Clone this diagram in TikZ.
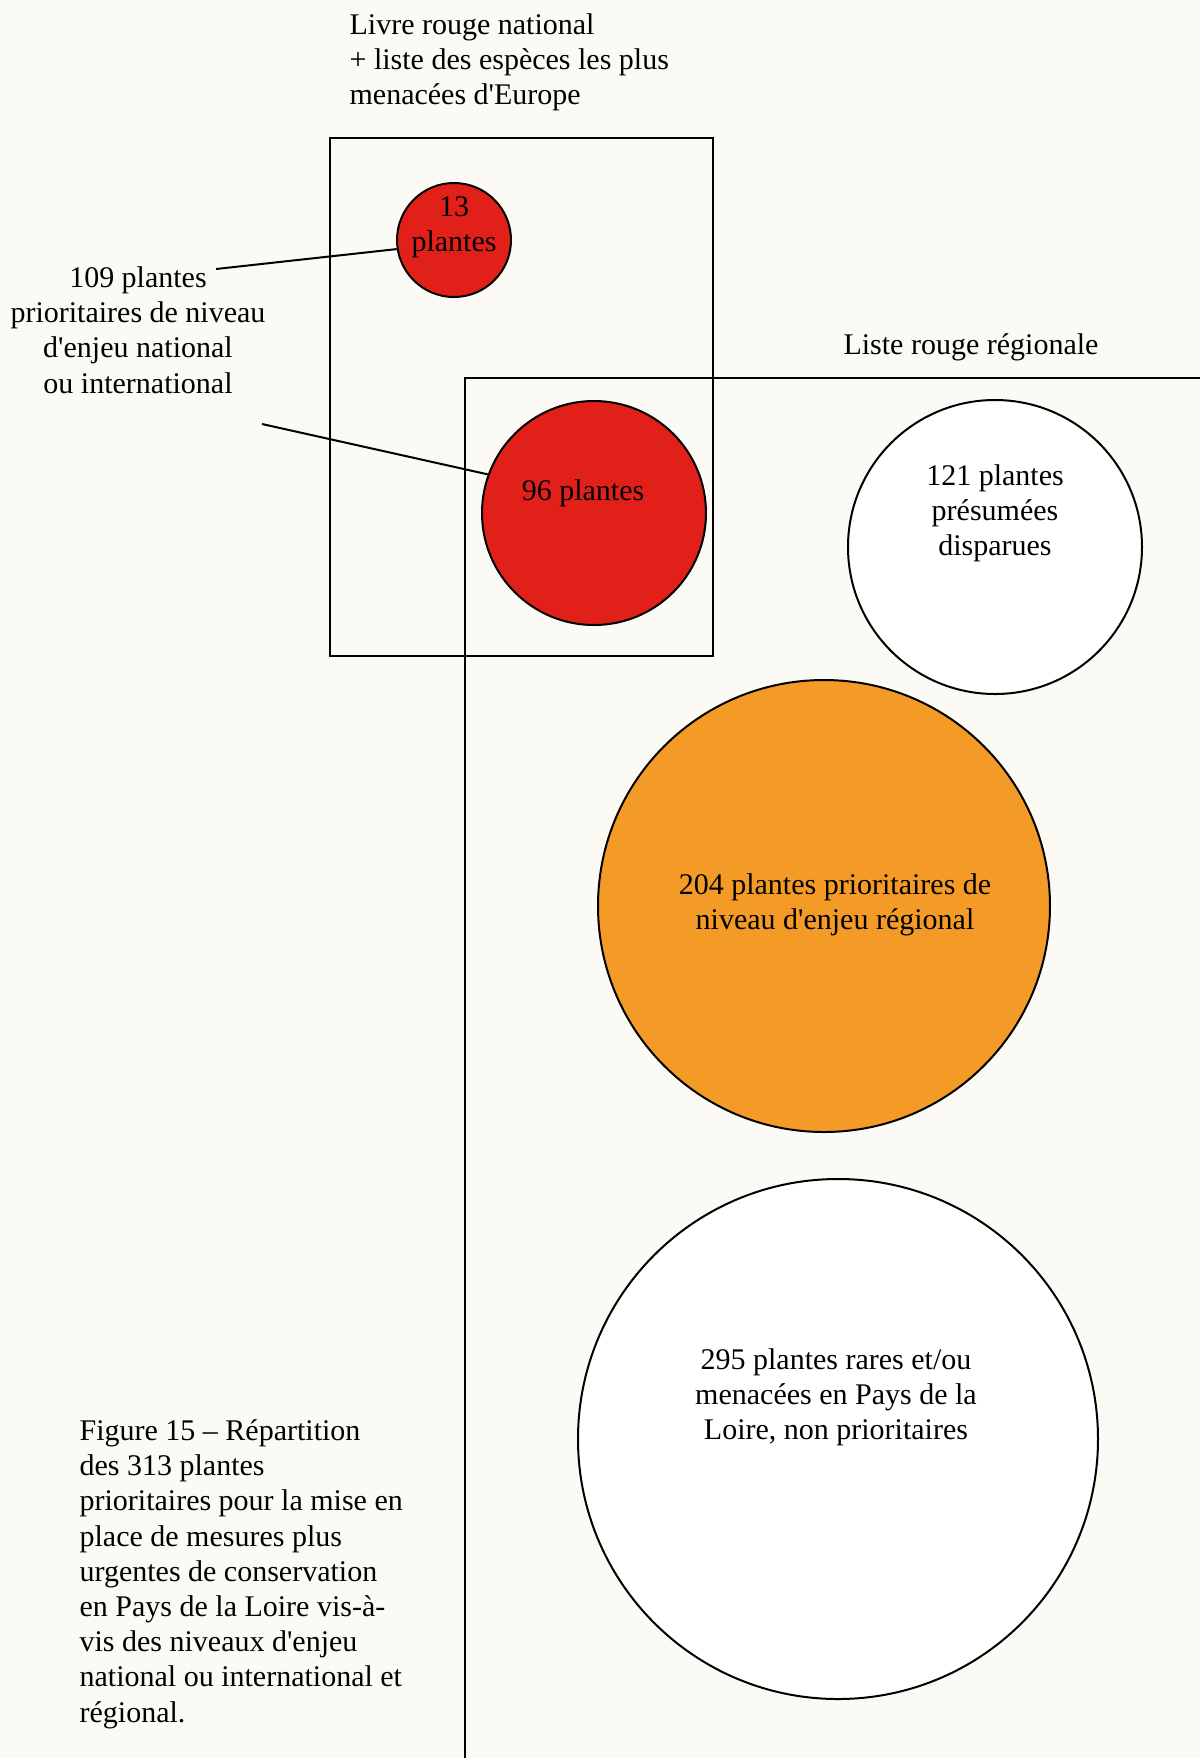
\documentclass[tikz,border=0pt]{standalone}
\usepackage{fontspec}
\setmainfont{Liberation Serif}[Ligatures=TeXOff]
\usepackage{tikz}
\usetikzlibrary{positioning}
\definecolor{paper}{RGB}{251,250,244}
\definecolor{rougefonce}{RGB}{226,32,26}
\definecolor{orangeregion}{RGB}{243,155,38}
\tikzset{plantes/.style={circle,draw,line width=1pt,inner sep=0pt}}

\begin{document}
\begin{tikzpicture}[x=0.5pt,y=-0.5pt,
      semithick,
      every node/.style={font=\fontsize{15}{17.6}\selectfont,inner sep=0pt},
      texte/.style={align=center},
      legende/.style={align=left,anchor=west}]

    \fill[paper] (0,0) rectangle (1200,1758);
    \useasboundingbox (0,0) rectangle (1200,1758);

    % cadres
    \draw[line width=1pt] (330,138) rectangle (713,656);
    \draw[line width=1pt] (465,1758) -- (465,378) -- (1200,378);

    % cercles
    \node[plantes,fill=rougefonce,minimum size=57pt]
      (Nat13) at (454,240) {};
    \node[plantes,fill=rougefonce,minimum size=112pt]
      (Nat96) at (594,513) {};
    \node[plantes,fill=white,minimum size=147pt]
      (Disparues) at (995,547) {};
    \node[plantes,fill=orangeregion,minimum size=226pt]
      (Regional) at (824,906) {};
    \node[plantes,fill=white,minimum size=260pt]
      (NonPrio) at (838,1439) {};

    % textes
    \node[texte] (T13) at (454,227) {13\\plantes};
    \node[texte] (T96) at (583,493) {96 plantes};
    \node[texte] (T121) at (995,513) {121 plantes\\présumées\\disparues};
    \node[texte] (T204) at (835,905) {204 plantes prioritaires de\\niveau d'enjeu régional};
    \node[texte] (T295) at (836,1397) {295 plantes rares et/ou\\menacées en Pays de la\\Loire, non prioritaires};

    \node[legende] (Livre) at (349,62)
      {Livre rouge national\\+ liste des espèces les plus\\menacées d'Europe};
    \node[texte] (Liste) at (971,347) {Liste rouge régionale};
    \node[texte] (Prio109) at (138,330)
      {109 plantes\\prioritaires de niveau\\d'enjeu national\\ou international};
    \node[legende] (Figure) at (79,1574)
      {Figure 15 – Répartition\\des 313 plantes\\prioritaires pour la mise en\\place de mesures plus\\urgentes de conservation\\en Pays de la Loire vis-à-\\vis des niveaux d'enjeu\\national ou international et\\régional.};

    \coordinate (Depart13) at (216,269);
    \coordinate (Depart96) at (262,424);

    \path[draw,line width=1pt]
      (Depart13) edge (Nat13.189)
      (Depart96) edge (Nat96.160);

  \end{tikzpicture}
\end{document}
